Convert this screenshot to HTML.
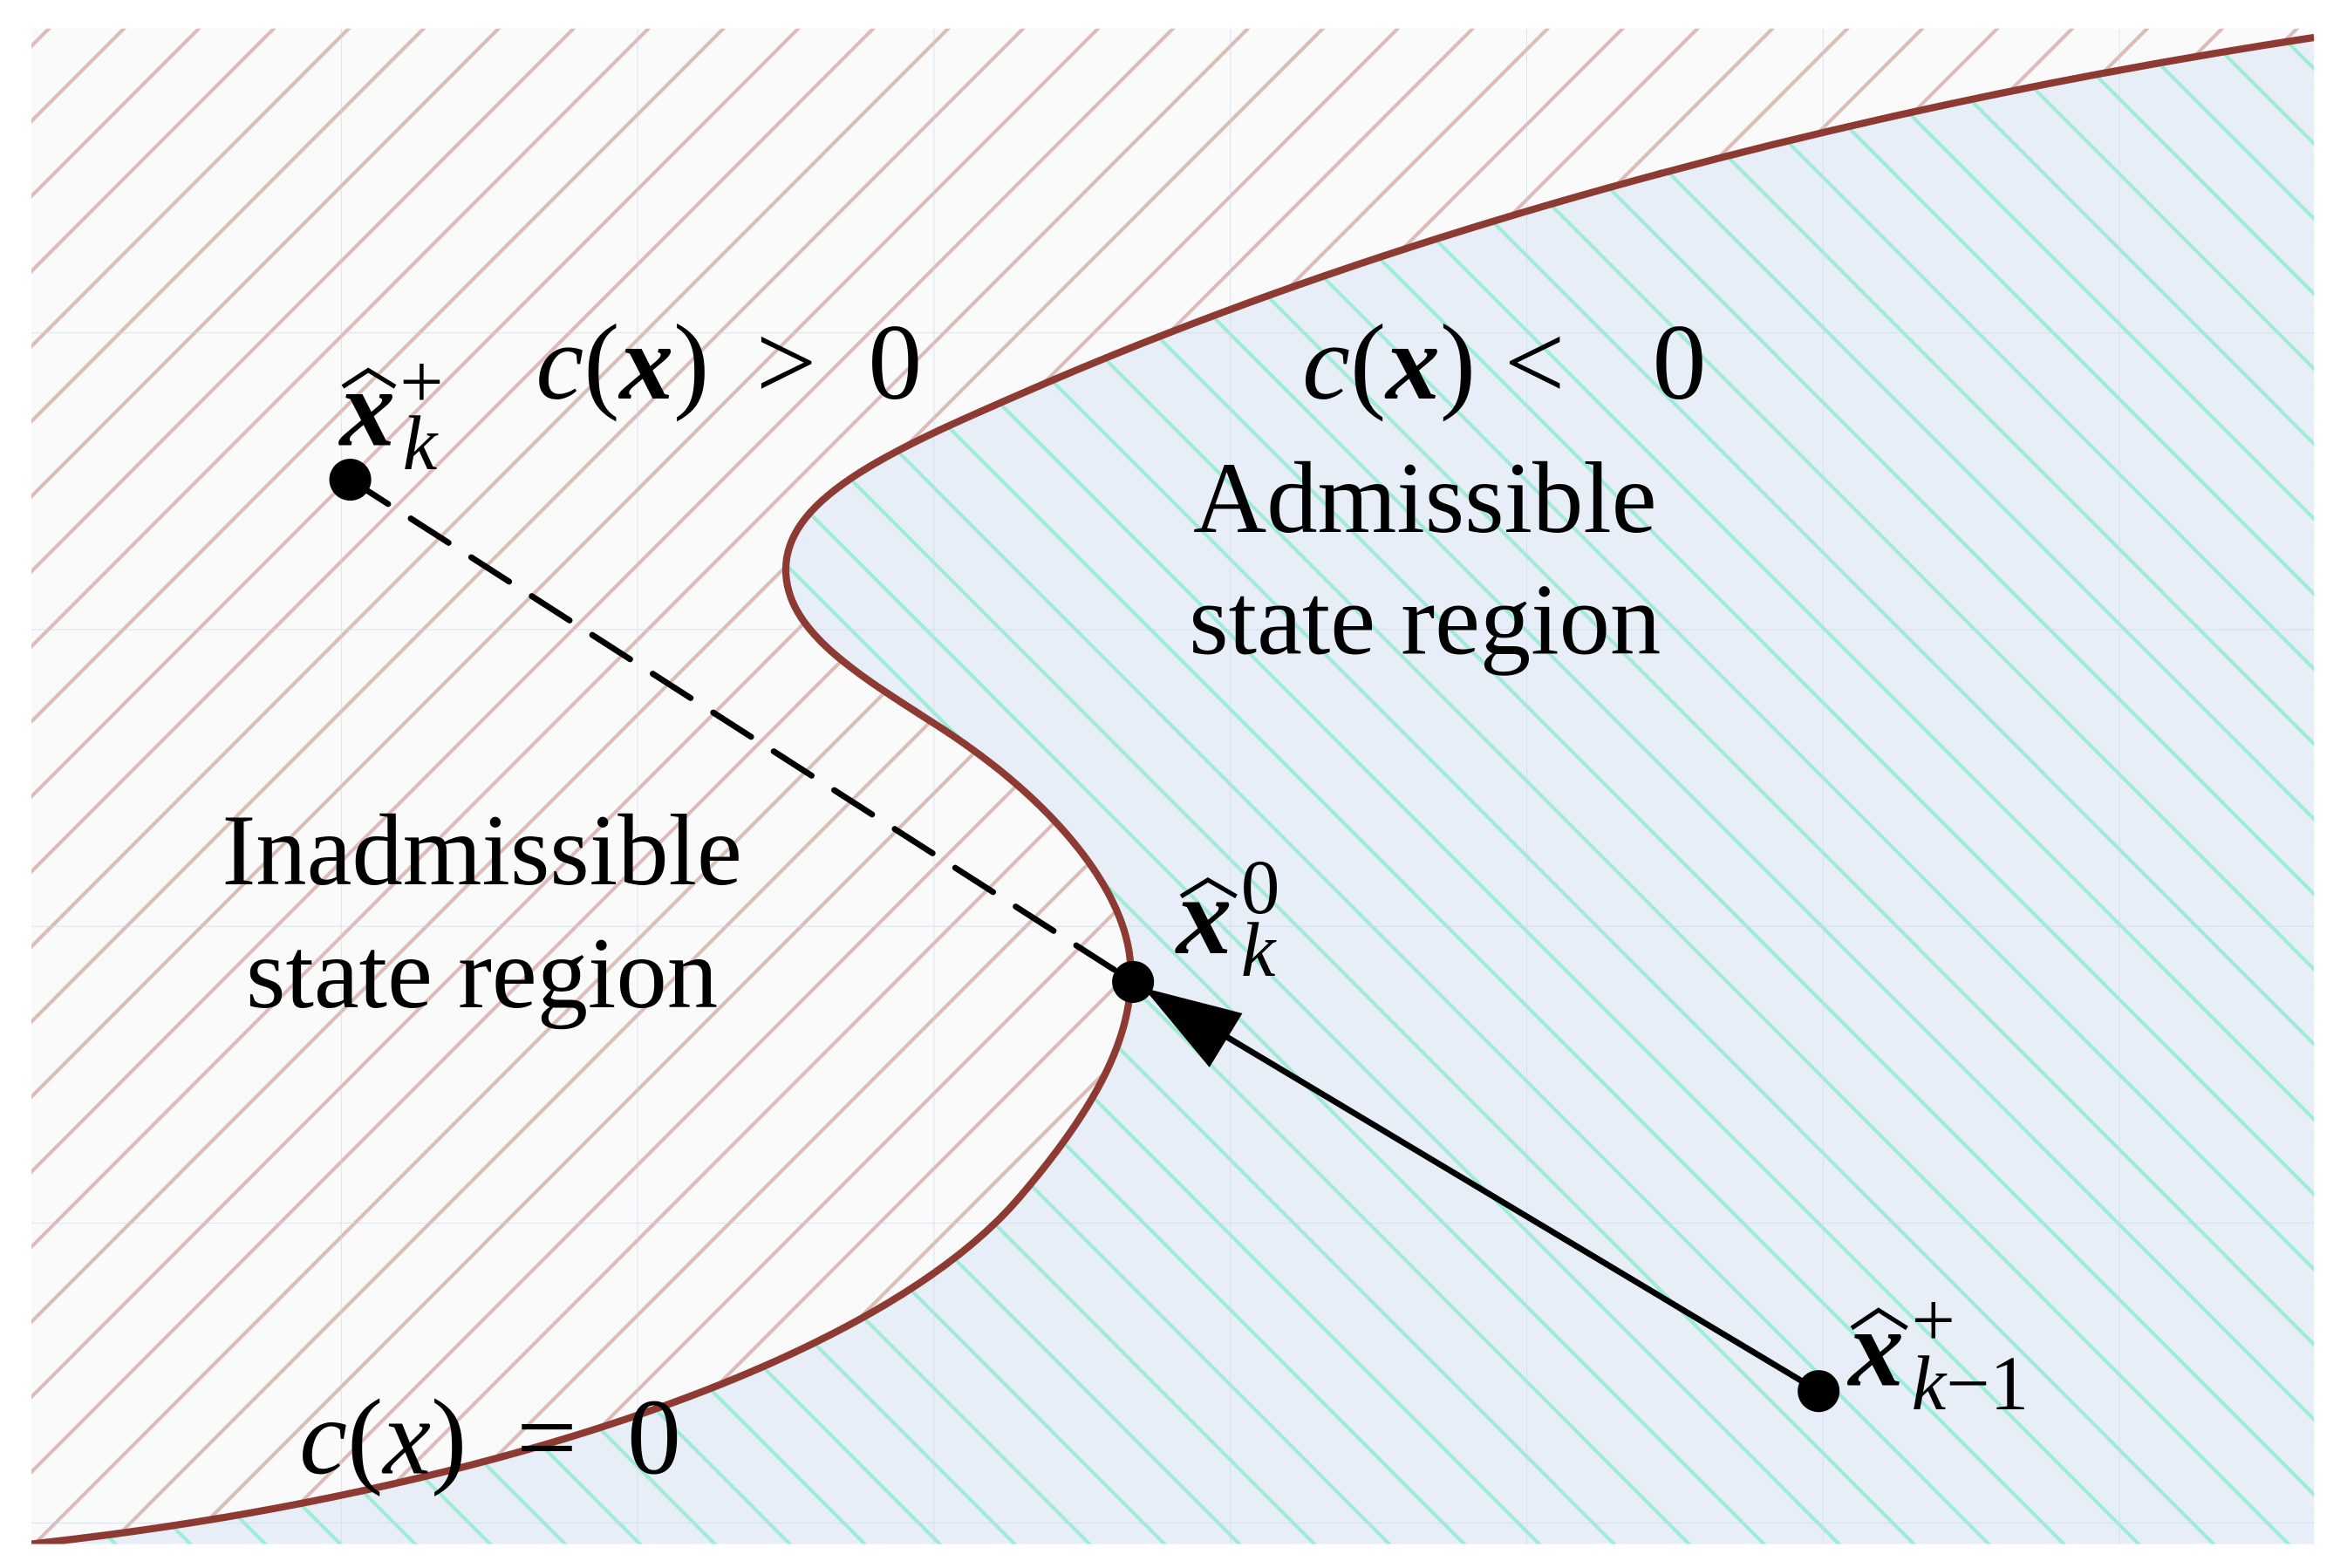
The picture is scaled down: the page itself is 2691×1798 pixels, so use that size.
<!DOCTYPE html>
<html><head><meta charset="utf-8"><style>
html,body{margin:0;padding:0;background:#fff;}
svg{display:block;}
text{font-family:"Liberation Serif",serif;fill:#000;}
</style></head><body>
<svg width="2691" height="1798" viewBox="0 0 1568 1046" preserveAspectRatio="none" xmlns="http://www.w3.org/2000/svg">
<defs>
<pattern id="pk" patternUnits="userSpaceOnUse" width="35.4" height="35.4" patternTransform="rotate(-45)">
<rect width="36" height="36" fill="#fafafa"/>
<rect x="0" y="0" width="36" height="2.4" fill="#dcbcb8"/>
</pattern>
<pattern id="gr" patternUnits="userSpaceOnUse" width="35.4" height="35.4" patternTransform="rotate(45)">
<rect width="36" height="36" fill="#e8eef8"/>
<rect x="0" y="0" width="36" height="2.4" fill="#9eecd8"/>
</pattern>
<clipPath id="pa"><rect x="21" y="19" width="1525" height="1011"/></clipPath>
</defs>
<rect width="1568" height="1046" fill="#fff"/>
<g clip-path="url(#pa)">
<rect x="21" y="19" width="1525" height="1011" fill="url(#pk)"/>
<path d="M21,1030 C300,1000 580,915 680,800 C730,742 760,690 755,640 C750,590 700,530 620,480 C570,448 525,420 525,380 C525,330 600,298 700,255 C950,148 1250,70 1546,25 L1560,25 L1560,1040 L21,1040 Z" fill="url(#gr)"/>
<g stroke="#c8d6ea" stroke-width="0.6" opacity="0.6">
<line x1="228" y1="19" x2="228" y2="1030"/><line x1="426" y1="19" x2="426" y2="1030"/><line x1="624" y1="19" x2="624" y2="1030"/><line x1="822" y1="19" x2="822" y2="1030"/><line x1="1020" y1="19" x2="1020" y2="1030"/><line x1="1218" y1="19" x2="1218" y2="1030"/><line x1="1416" y1="19" x2="1416" y2="1030"/>
<line x1="21" y1="222" x2="1546" y2="222"/><line x1="21" y1="420" x2="1546" y2="420"/><line x1="21" y1="618" x2="1546" y2="618"/><line x1="21" y1="816" x2="1546" y2="816"/><line x1="21" y1="1016" x2="1546" y2="1016"/>
</g>
<path d="M21,1030 C300,1000 580,915 680,800 C730,742 760,690 755,640 C750,590 700,530 620,480 C570,448 525,420 525,380 C525,330 600,298 700,255 C950,148 1250,70 1546,25" fill="none" stroke="#8c3a32" stroke-width="4.8"/>
</g>
<line x1="234" y1="320" x2="757" y2="655" stroke="#000" stroke-width="4" stroke-dasharray="30,18" stroke-linecap="round"/>
<line x1="1215" y1="928" x2="805" y2="683" stroke="#000" stroke-width="4"/>
<polygon points="764,659 830,676 808,712" fill="#000"/>
<circle cx="234" cy="320" r="14" fill="#000"/>
<circle cx="757" cy="655" r="14" fill="#000"/>
<circle cx="1215" cy="928" r="14" fill="#000"/>
<g font-size="72">
<text x="358" y="266"><tspan font-style="italic">c</tspan>(<tspan font-style="italic" font-weight="bold">x</tspan>)</text>
<text x="505" y="266">&gt;</text><text x="580" y="266">0</text>
<text x="870" y="266"><tspan font-style="italic">c</tspan>(<tspan font-style="italic" font-weight="bold">x</tspan>)</text>
<text x="1005" y="266">&lt;</text><text x="1104" y="266">0</text>
<text x="200" y="983"><tspan font-style="italic">c</tspan>(<tspan font-style="italic">x</tspan>)</text>
<text x="345" y="983">=</text><text x="419" y="983">0</text>
</g>
<g font-size="68" text-anchor="middle">
<text x="952" y="355">Admissible</text>
<text x="952" y="436">state region</text>
<text x="322" y="590">Inadmissible</text>
<text x="322" y="672">state region</text>
</g>
<g fill="none" stroke="#000" stroke-width="3">
<path d="M229,258 L246,247 L264,258"/>
<path d="M789,598 L807,587 L826,598"/>
<path d="M1237,886 L1255,874 L1274,886"/>
</g>
<g font-style="italic" font-weight="bold" font-size="74">
<text x="227" y="297">x</text>
<text x="786" y="636">x</text>
<text x="1235" y="924">x</text>
</g>
<g font-size="52">
<text x="267" y="272">+</text>
<text x="269" y="313" font-style="italic">k</text>
<text x="829" y="609">0</text>
<text x="829" y="651" font-style="italic">k</text>
<text x="1277" y="898">+</text>
<text x="1277" y="940"><tspan font-style="italic">k</tspan>−1</text>
</g>
</svg>
</body></html>
